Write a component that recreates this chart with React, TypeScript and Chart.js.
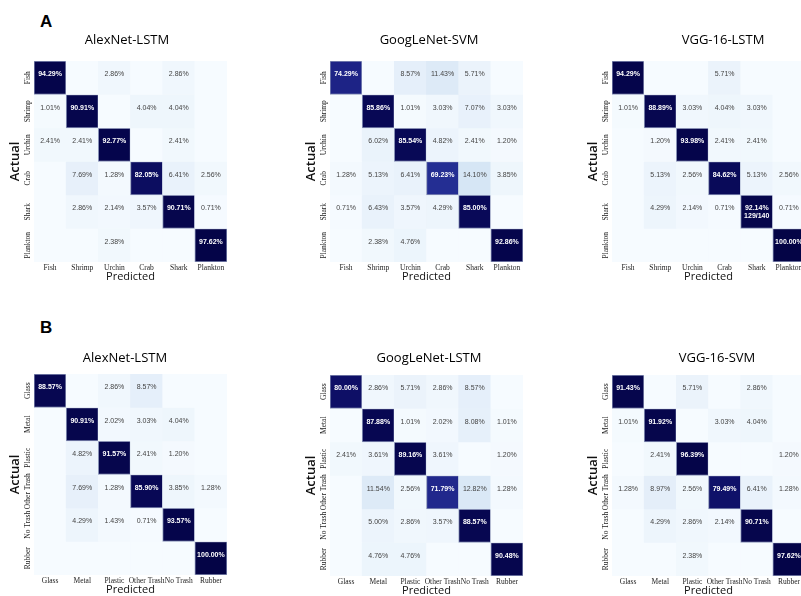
import React, { useEffect, useRef } from "react";
import { Chart, registerables } from "chart.js";

Chart.register(...registerables);

// Class names for the two datasets
const marineClasses = ["Fish", "Shrimp", "Urchin", "Crab", "Shark", "Plankton"];
const trashClasses = ["Glass", "Metal", "Plastic", "Other Trash", "No Trash", "Rubber"];

// Row-normalised confusion matrices (percent); rows = actual, columns = predicted
const alexnetLstmMarine = [
  [94.29, 0, 2.86, 0, 2.86, 0],
  [1.01, 90.91, 0, 4.04, 4.04, 0],
  [2.41, 2.41, 92.77, 0, 2.41, 0],
  [0, 7.69, 1.28, 82.05, 6.41, 2.56],
  [0, 2.86, 2.14, 3.57, 90.71, 0.71],
  [0, 0, 2.38, 0, 0, 97.62],
];

const googlenetSvmMarine = [
  [74.29, 0, 8.57, 11.43, 5.71, 0],
  [0, 85.86, 1.01, 3.03, 7.07, 3.03],
  [0, 6.02, 85.54, 4.82, 2.41, 1.2],
  [1.28, 5.13, 6.41, 69.23, 14.1, 3.85],
  [0.71, 6.43, 3.57, 4.29, 85.0, 0],
  [0, 2.38, 4.76, 0, 0, 92.86],
];

const vgg16LstmMarine = [
  [94.29, 0, 0, 5.71, 0, 0],
  [1.01, 88.89, 3.03, 4.04, 3.03, 0],
  [0, 1.2, 93.98, 2.41, 2.41, 0],
  [0, 5.13, 2.56, 84.62, 5.13, 2.56],
  [0, 4.29, 2.14, 0.71, 92.14, 0.71],
  [0, 0, 0, 0, 0, 100.0],
];

const alexnetLstmTrash = [
  [88.57, 0, 2.86, 8.57, 0, 0],
  [0, 90.91, 2.02, 3.03, 4.04, 0],
  [0, 4.82, 91.57, 2.41, 1.2, 0],
  [0, 7.69, 1.28, 85.9, 3.85, 1.28],
  [0, 4.29, 1.43, 0.71, 93.57, 0],
  [0, 0, 0, 0, 0, 100.0],
];

const googlenetLstmTrash = [
  [80.0, 2.86, 5.71, 2.86, 8.57, 0],
  [0, 87.88, 1.01, 2.02, 8.08, 1.01],
  [2.41, 3.61, 89.16, 3.61, 0, 1.2],
  [0, 11.54, 2.56, 71.79, 12.82, 1.28],
  [0, 5.0, 2.86, 3.57, 88.57, 0],
  [0, 4.76, 4.76, 0, 0, 90.48],
];

const vgg16SvmTrash = [
  [91.43, 0, 5.71, 0, 2.86, 0],
  [1.01, 91.92, 0, 3.03, 4.04, 0],
  [0, 2.41, 96.39, 0, 0, 1.2],
  [1.28, 8.97, 2.56, 79.49, 6.41, 1.28],
  [0, 4.29, 2.86, 2.14, 90.71, 0],
  [0, 0, 2.38, 0, 0, 97.62],
];

// Raw count shown under one cell of the VGG-16-LSTM matrix
const vgg16LstmCountNotes = [{ row: 4, col: 4, text: "129/140" }];

type Note = { row: number; col: number; text: string };

// White -> light blue -> navy colour ramp
const rampStops: [number, number[]][] = [
  [0, [246, 251, 255]],
  [0.03, [240, 247, 253]],
  [0.08, [230, 240, 250]],
  [0.15, [212, 228, 244]],
  [0.4, [130, 150, 210]],
  [0.68, [38, 48, 150]],
  [0.75, [28, 34, 132]],
  [0.8, [14, 15, 102]],
  [0.86, [8, 8, 85]],
  [0.9, [6, 6, 78]],
  [1.0, [4, 4, 70]],
];

function cellColor(v: number): string {
  const t = Math.max(0, Math.min(1, v / 100));
  for (let i = 1; i < rampStops.length; i++) {
    const [t1, c1] = rampStops[i];
    const [t0, c0] = rampStops[i - 1];
    if (t <= t1) {
      const f = (t - t0) / (t1 - t0);
      const c = c0.map((a, k) => Math.round(a + (c1[k] - a) * f));
      return `rgb(${c[0]},${c[1]},${c[2]})`;
    }
  }
  return "rgb(4,4,70)";
}

type PanelProps = {
  title: string;
  classes: string[];
  matrix: number[][];
  notes?: Note[];
  left: number;
  top: number;
  width: number;
  height: number;
  padRight: number;
  titleGap: number;
};

const AXIS_W = 34;
const AXIS_H = 24;

function MatrixPanel(p: PanelProps) {
  const ref = useRef<HTMLCanvasElement | null>(null);

  useEffect(() => {
    if (!ref.current) return;
    const { classes, matrix, notes = [] } = p;

    const cellText = {
      id: "cellText",
      afterDatasetsDraw(chart: any) {
        const { ctx, chartArea } = chart;
        ctx.save();
        ctx.textAlign = "center";
        ctx.textBaseline = "middle";
        matrix.forEach((row, r) => {
          const meta = chart.getDatasetMeta(r);
          row.forEach((v, c) => {
            if (!v) return;
            const el = meta.data[c];
            const { x, y } = el.getCenterPoint();
            const dark = v > 50;
            ctx.fillStyle = dark ? "#ffffff" : "#444444";
            ctx.font = (dark ? "bold " : "") + '7px "Liberation Sans", Arial, sans-serif';
            ctx.fillText(v.toFixed(2) + "%", x, y - 3.5);
            notes
              .filter((n) => n.row === r && n.col === c)
              .forEach((n) => ctx.fillText(n.text, x, y + 4));
          });
        });
        // Rotated row (actual class) labels
        const ys = chart.scales.y;
        ctx.fillStyle = "#222222";
        ctx.font = '7.5px "Liberation Serif", serif';
        classes.forEach((name, r) => {
          ctx.save();
          ctx.translate(chartArea.left - 6, ys.getPixelForValue(r + 0.5));
          ctx.rotate(-Math.PI / 2);
          ctx.fillText(name, 0, 0);
          ctx.restore();
        });
        ctx.restore();
      },
    };

    const chart = new Chart(ref.current, {
      type: "bar",
      data: {
        labels: classes,
        datasets: matrix.map((row, r) => ({
          data: classes.map(() => [r, r + 1]) as any,
          backgroundColor: row.map((v) => cellColor(v)),
          borderColor: row.map((v) => (v > 50 ? "rgb(135,145,182)" : "rgba(0,0,0,0)")),
          borderWidth: row.map((v) => (v > 50 ? 1 : 0)),
          borderSkipped: false,
          barPercentage: 1,
          categoryPercentage: 1,
          grouped: false,
          yAxisID: "y",
        })),
      },
      options: {
        responsive: false,
        animation: false,
        events: [],
        layout: { padding: 0 },
        plugins: {
          legend: { display: false },
          tooltip: { enabled: false },
          title: {
            display: true,
            text: p.title,
            color: "#000000",
            font: { family: "'Open Sans', sans-serif", size: 13, weight: "normal" },
            padding: { top: 4, bottom: p.titleGap },
          },
        },
        scales: {
          x: {
            type: "category",
            offset: true,
            grid: { display: false, drawTicks: false },
            border: { display: false },
            ticks: {
              autoSkip: false,
              maxRotation: 0,
              minRotation: 0,
              padding: 2,
              color: "#222222",
              font: { family: "'Liberation Serif', serif", size: 7.5 },
            },
            title: {
              display: true,
              text: "Predicted",
              color: "#111111",
              font: { family: "'Open Sans', sans-serif", size: 11 },
              padding: { top: 0, bottom: 2.4 },
            },
            afterFit: (s: any) => {
              s.height = AXIS_H;
            },
          },
          y: {
            type: "linear",
            position: "left",
            min: 0,
            max: 6,
            reverse: true,
            grid: { display: false, drawTicks: false },
            border: { display: false },
            ticks: { display: false },
            title: {
              display: true,
              text: "Actual",
              color: "#111111",
              font: { family: "'Open Sans', sans-serif", size: 13, weight: 600 },
              padding: { top: 7.2, bottom: 0 },
            },
            afterFit: (s: any) => {
              s.width = AXIS_W;
            },
          },
          // empty right-hand margin so the title centres over the whole panel
          margin: {
            type: "linear",
            position: "right",
            grid: { display: false, drawTicks: false },
            border: { display: false },
            ticks: { display: false },
            afterFit: (s: any) => {
              s.width = p.padRight;
            },
          },
        },
      } as any,
      plugins: [cellText],
    });
    return () => chart.destroy();
  }, []);

  return (
    <canvas
      ref={ref}
      width={p.width}
      height={p.height}
      style={{ position: "absolute", left: p.left, top: p.top, width: p.width, height: p.height }}
    />
  );
}

// Placement of the six matrices on the page
const panels: PanelProps[] = [
  { title: "AlexNet-LSTM", classes: marineClasses, matrix: alexnetLstmMarine, left: 0, top: 28, width: 254, height: 258, padRight: 27, titleGap: 13.4 },
  { title: "GoogLeNet-SVM", classes: marineClasses, matrix: googlenetSvmMarine, left: 296, top: 28, width: 266, height: 258, padRight: 39, titleGap: 13.4 },
  { title: "VGG-16-LSTM", classes: marineClasses, matrix: vgg16LstmMarine, notes: vgg16LstmCountNotes, left: 578, top: 28, width: 290, height: 258, padRight: 63, titleGap: 13.4 },
  { title: "AlexNet-LSTM", classes: trashClasses, matrix: alexnetLstmTrash, left: 0, top: 346, width: 250, height: 253, padRight: 23, titleGap: 8.4 },
  { title: "GoogLeNet-LSTM", classes: trashClasses, matrix: googlenetLstmTrash, left: 296, top: 346, width: 266, height: 254, padRight: 39, titleGap: 9.4 },
  { title: "VGG-16-SVM", classes: trashClasses, matrix: vgg16SvmTrash, left: 578, top: 346, width: 278, height: 254, padRight: 51, titleGap: 9.4 },
];

const letterStyle: React.CSSProperties = {
  position: "absolute",
  left: 40,
  fontFamily: "'Liberation Sans', Arial, sans-serif",
  fontWeight: "bold",
  fontSize: 17,
  lineHeight: "17px",
  color: "#000",
};

export default function App() {
  return (
    <div
      style={{
        position: "fixed",
        left: 0,
        top: 0,
        width: 801,
        height: 596,
        overflow: "hidden",
        background: "#ffffff",
      }}
    >
      <div style={{ ...letterStyle, top: 12.7 }}>A</div>
      <div style={{ ...letterStyle, top: 318.7 }}>B</div>
      {panels.map((p, i) => (
        <MatrixPanel key={i} {...p} />
      ))}
    </div>
  );
}
